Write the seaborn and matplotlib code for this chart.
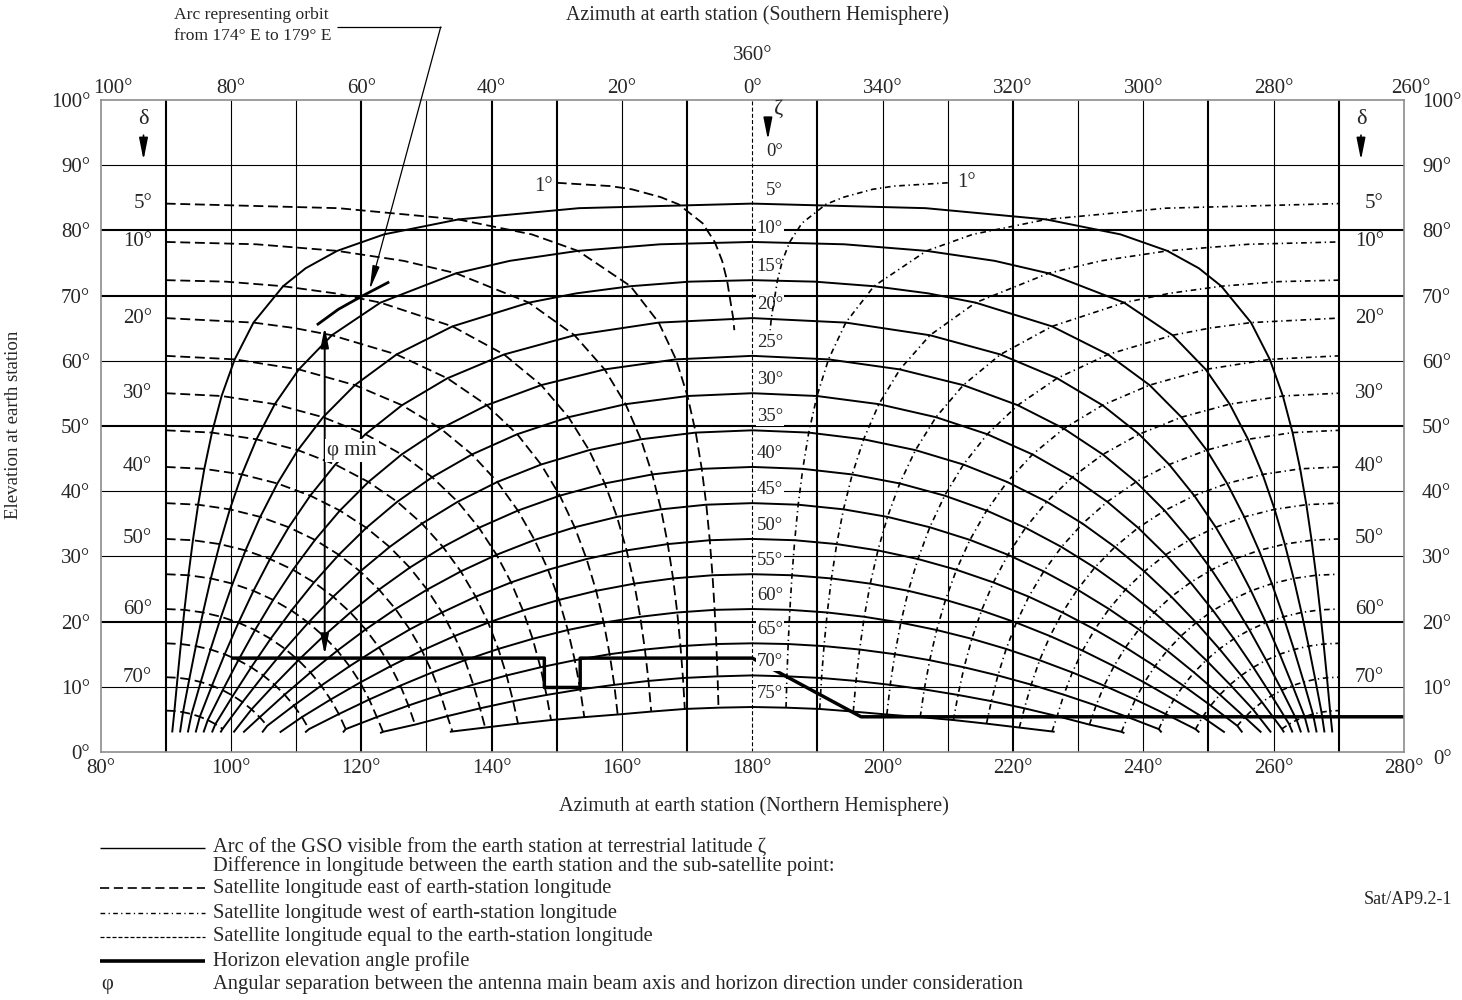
import numpy as np
import pandas as pd
import matplotlib
matplotlib.use("Agg")
import matplotlib.pyplot as plt
from matplotlib.lines import Line2D
from matplotlib.ticker import FuncFormatter
import seaborn as sns

sns.set_style("white")
plt.rcParams["font.family"] = ["Liberation Serif", "DejaVu Serif"]
plt.rcParams["font.size"] = 15
plt.rcParams["lines.solid_capstyle"] = "butt"
plt.rcParams["lines.dash_capstyle"] = "butt"

nan = np.nan

# ---------------------------------------------------------------- data
# Terrestrial latitude of the earth station (one GSO arc per value)
lat_levels = [5, 10, 15, 20, 25, 30, 35, 40, 45, 50, 55, 60, 65, 70, 75]
# Difference in longitude earth station / sub-satellite point
dlon_levels = [0, 5, 10, 15, 20, 25, 30, 35, 40, 45, 50, 55, 60, 65, 70, 75]

# Azimuth distance from the meridian (deg) of every arc / longitude node
offset_rows = [
    [0, 45.11, 63.69, 71.98, 76.53, 79.41, 81.42, 82.90, 84.07, 85.02, 85.82, 86.51, 87.12, 87.67, 88.18, 88.66],
    [0, 26.74, 45.44, 57.05, 64.50, 69.57, 73.26, 76.07, 78.31, 80.15, 81.71, 83.07, 84.27, 85.37, 86.38, 87.34],
    [0, 18.67, 34.27, 46.00, 54.58, 60.97, 65.85, 69.72, 72.86, 75.49, 77.75, 79.73, 81.50, 83.12, 84.62, 86.03],
    [0, 14.35, 27.27, 38.08, 46.78, 53.74, 59.36, 63.97, 67.82, 71.12, 73.99, 76.53, 78.83, 80.94, 82.90, 84.76],
    [0, 11.70, 22.65, 32.38, 40.74, 47.81, 53.79, 58.89, 63.27, 67.09, 70.47, 73.52, 76.29, 78.85, 81.25, 83.54],
    [0, 9.93, 19.43, 28.19, 36.06, 43.00, 49.11, 54.47, 59.21, 63.43, 67.24, 70.70, 73.90, 76.88, 79.69, 82.37],
    [0, 8.67, 17.09, 25.04, 32.40, 39.11, 45.19, 50.68, 55.64, 60.16, 64.30, 68.12, 71.68, 75.03, 78.21, 81.26],
    [0, 7.75, 15.34, 22.63, 29.52, 35.96, 41.93, 47.45, 52.55, 57.27, 61.66, 65.77, 69.64, 73.31, 76.83, nan],
    [0, 7.05, 14.00, 20.75, 27.24, 33.40, 39.23, 44.72, 49.88, 54.74, 59.32, 63.66, 67.79, 71.75, 75.57, nan],
    [0, 6.52, 12.96, 19.28, 25.42, 31.33, 37.00, 42.43, 47.60, 52.55, 57.27, 61.79, 66.14, 70.34, 74.42, nan],
    [0, 6.10, 12.15, 18.11, 23.95, 29.65, 35.18, 40.52, 45.69, 50.68, 55.50, 60.16, 64.69, 69.09, nan, nan],
    [0, 5.77, 11.51, 17.19, 22.79, 28.30, 33.69, 38.96, 44.09, 49.11, 53.99, 58.77, 63.43, 68.01, nan, nan],
    [0, 5.51, 11.01, 16.47, 21.88, 27.23, 32.50, 37.69, 42.80, 47.81, 52.75, 57.60, 62.38, nan, nan, nan],
    [0, 5.32, 10.63, 15.92, 21.17, 26.39, 31.57, 36.69, 41.76, 46.78, 51.74, 56.65, nan, nan, nan, nan],
    [0, 5.18, 10.35, 15.50, 20.65, 25.77, 30.87, 35.94, 40.98, 46.00, nan, nan, nan, nan, nan, nan],
]
# Elevation (deg) at the same nodes
elev_rows = [
    [84.11, 81.68, 76.86, 71.44, 65.86, 60.22, 54.60, 48.99, 43.43, 37.93, 32.48, 27.11, 21.80, 16.56, 11.39, 6.29],
    [78.23, 76.86, 73.42, 68.92, 63.92, 58.68, 53.35, 47.96, 42.57, 37.22, 31.89, 26.62, 21.40, 16.24, 11.15, 6.11],
    [72.37, 71.44, 68.92, 65.28, 60.97, 56.27, 51.35, 46.30, 41.19, 36.06, 30.92, 25.82, 20.74, 15.72, 10.74, 5.82],
    [66.55, 65.86, 63.92, 60.97, 57.32, 53.19, 48.74, 44.09, 39.32, 34.47, 29.60, 24.72, 19.84, 15.00, 10.18, 5.41],
    [60.76, 60.22, 58.68, 56.27, 53.19, 49.60, 45.64, 41.42, 37.03, 32.53, 27.95, 23.33, 18.71, 14.08, 9.48, 4.90],
    [55.03, 54.60, 53.35, 51.35, 48.74, 45.64, 42.15, 38.38, 34.39, 30.25, 26.01, 21.70, 17.36, 12.99, 8.63, 4.28],
    [49.34, 48.99, 47.96, 46.30, 44.09, 41.42, 38.38, 35.03, 31.45, 27.70, 23.82, 19.84, 15.81, 11.74, 7.65, 3.55],
    [43.72, 43.43, 42.57, 41.19, 39.32, 37.03, 34.39, 31.45, 28.28, 24.91, 21.40, 17.78, 14.08, 10.33, 6.54, nan],
    [38.17, 37.93, 37.22, 36.06, 34.47, 32.53, 30.25, 27.70, 24.91, 21.93, 18.80, 15.55, 12.20, 8.79, 5.33, nan],
    [32.68, 32.48, 31.89, 30.92, 29.60, 27.95, 26.01, 23.82, 21.40, 18.80, 16.04, 13.16, 10.18, 7.13, 4.02, nan],
    [27.27, 27.11, 26.62, 25.82, 24.72, 23.33, 21.70, 19.84, 17.78, 15.55, 13.16, 10.66, 8.05, 5.36, nan, nan],
    [21.93, 21.80, 21.40, 20.74, 19.84, 18.71, 17.36, 15.81, 14.08, 12.20, 10.18, 8.05, 5.82, 3.51, nan, nan],
    [16.67, 16.56, 16.24, 15.72, 15.00, 14.08, 12.99, 11.74, 10.33, 8.79, 7.13, 5.36, 3.51, nan, nan, nan],
    [11.75, 11.60, 11.35, 10.90, 10.30, 9.60, 8.75, 7.80, 6.70, 5.50, 4.20, 3.10, nan, nan, nan, nan],
    [6.90, 6.80, 6.60, 6.20, 5.75, 5.35, 4.90, 4.35, 3.75, 3.15, nan, nan, nan, nan, nan, nan],
]
# Elevation where each longitude curve leaves the 90 deg / 270 deg line
equator_elev = [nan, 84.11, 78.23, 72.37, 66.55, 60.76, 55.03, 49.34, 43.72,
                38.17, 32.68, 27.27, 21.93, 16.67, 11.47, 6.35]
# Additional nodes: flat tops of the high arcs, and the curves near the equator
extra_lat = [5, 5, 5, 10, 10, 15, 15, 2.5, 2.5, 2.5, 7.5, 7.5, 7.5, 7.5]
extra_dlon = [2.5, 7.5, 12.5, 2.5, 7.5, 2.5, 7.5, 5, 10, 15, 5, 10, 15, 20]
extra_offset = [26.60, 56.50, 68.53, 14.11, 37.20, 9.58, 26.96,
                63.50, 76.10, 80.75, 33.83, 53.50, 64.03, 70.27]
extra_elev = [83.41, 79.39, 74.19, 77.87, 75.33, 72.14, 70.35,
              83.41, 77.87, 72.14, 79.39, 75.33, 70.35, 65.03]
# Lower end of every arc
arc_end_offset = [89.0, 87.8, 86.6, 85.4, 84.2, 82.9, 81.6, 79.6, 78.1, 75.2, 72.5, 68.6, 62.8, 57.1, 46.4]
arc_end_elev = [3.0, 3.0, 3.0, 3.0, 3.0, 3.0, 3.0, 3.0, 3.0, 3.0, 3.0, 3.0, 3.0, 2.9, 3.1]

# The 1 deg longitude-difference curve (drawn near the zenith only)
dlon1_offset = [30.0, 21.8, 18.45, 14.05, 11.3, 7.62, 5.74, 4.61, 3.86, 2.92, 2.75]
dlon1_elev = [87.3, 86.8, 86.3, 85.1, 84.0, 81.1, 78.2, 75.3, 72.3, 66.5, 64.7]

# Horizon elevation angle profile
horizon_az = [100.0, 148.1, 148.1, 153.6, 153.6, 180.0, 196.7, 280.0]
horizon_elev = [14.4, 14.4, 9.9, 9.9, 14.4, 14.4, 5.4, 5.4]

# Arc of the orbit from 174 E to 179 E
orbit_az = [113.2, 116.5, 119.9, 124.3]
orbit_elev = [65.5, 67.9, 69.8, 72.1]

# Minimum angular separation (phi min)
phi_az = 114.4
phi_elev = [14.9, 65.2]

meridian_az = 180.0
lon_label_values = [5, 10, 20, 30, 40, 50, 60, 70]
bottom_ticks = [80, 100, 120, 140, 160, 180, 200, 220, 240, 260, 280]
top_tick_labels = ["100°", "80°", "60°", "40°", "20°", "0°", "340°", "320°", "300°", "280°", "260°"]
elev_ticks = [0, 10, 20, 30, 40, 50, 60, 70, 80, 90, 100]

legend_text = [
    "Arc of the GSO visible from the earth station at terrestrial latitude ζ",
    "Difference in longitude between the earth station and the sub-satellite point:",
    "Satellite longitude east of earth-station longitude",
    "Satellite longitude west of earth-station longitude",
    "Satellite longitude equal to the earth-station longitude",
    "Horizon elevation angle profile",
    "Angular separation between the antenna main beam axis and horizon direction under consideration",
]

# ---------------------------------------------------------------- nodes
records = []
for lat, offs, els, e_off, e_el in zip(lat_levels, offset_rows, elev_rows,
                                       arc_end_offset, arc_end_elev):
    for d, o, e in zip(dlon_levels, offs, els):
        if not (np.isnan(o) or np.isnan(e)):
            records.append((float(lat), float(d), o, e))
    records.append((float(lat), -1.0, e_off, e_el))
for d, e in zip(dlon_levels, equator_elev):
    if not np.isnan(e):
        records.append((0.0, float(d), 90.0, e))
for rec in zip(extra_lat, extra_dlon, extra_offset, extra_elev):
    records.append(tuple(float(v) for v in rec))
nodes = pd.DataFrame(records, columns=["lat", "dlon", "offset", "elev"])

arc_nodes = nodes[nodes["lat"].isin(lat_levels)]
arcs = pd.concat([
    arc_nodes.assign(az=meridian_az - arc_nodes["offset"]),
    arc_nodes[arc_nodes["offset"] > 0].assign(az=meridian_az + arc_nodes["offset"]),
]).sort_values(["lat", "az"])

curve_nodes = nodes[nodes["dlon"].isin(dlon_levels[1:])]
east = curve_nodes.assign(az=meridian_az - curve_nodes["offset"]).sort_values(["dlon", "az"])
west = curve_nodes.assign(az=meridian_az + curve_nodes["offset"]).sort_values(["dlon", "az"])

one = pd.DataFrame({"offset": dlon1_offset, "elev": dlon1_elev})
one_east = one.assign(az=meridian_az - one["offset"])
one_west = one.assign(az=meridian_az + one["offset"])

# ---------------------------------------------------------------- figure
W, H = 1462, 1000
fig = plt.figure(figsize=(W / 100, H / 100), dpi=100)
fig.patch.set_facecolor("white")
X0, X1, Y0, Y1 = 100.5, 1404.0, 100.0, 752.0
ax = fig.add_axes([X0 / W, 1 - Y1 / H, (X1 - X0) / W, (Y1 - Y0) / H])
PT = 72 / 100  # points per pixel


def fx(px):
    return px / W


def fy(py):
    return 1 - py / H


# grid
bold_x = {90, 120, 140, 150, 170, 190, 220, 250, 270}
bold_y = {20, 50, 70, 80}
for v in range(90, 280, 10):
    if v == 180:
        continue
    ax.axvline(v, color="black", lw=1.5 if v in bold_x else 0.8, zorder=0.5)
for v in range(10, 100, 10):
    ax.axhline(v, color="black", lw=1.5 if v in bold_y else 0.8, zorder=0.5)

# meridian: satellite longitude equal to earth-station longitude
ax.axvline(meridian_az, color="black", lw=0.8, linestyle=(0, (3.6, 2.0)), zorder=1)

dash_east = (0, (5.5, 2.6))
dash_west = (0, (3.4, 2.2, 0.8, 2.2))

sns.lineplot(data=arcs, x="az", y="elev", units="lat", estimator=None, sort=False,
             color="black", linewidth=1.4, zorder=3, ax=ax)
sns.lineplot(data=east, x="az", y="elev", units="dlon", estimator=None, sort=False,
             color="black", linewidth=1.3, linestyle=dash_east, zorder=3, ax=ax)
sns.lineplot(data=west, x="az", y="elev", units="dlon", estimator=None, sort=False,
             color="black", linewidth=1.2, linestyle=dash_west, zorder=3, ax=ax)
sns.lineplot(data=one_east, x="az", y="elev", estimator=None, sort=False,
             color="black", linewidth=1.3, linestyle=dash_east, zorder=3, ax=ax)
sns.lineplot(data=one_west, x="az", y="elev", estimator=None, sort=False,
             color="black", linewidth=1.2, linestyle=dash_west, zorder=3, ax=ax)
sns.lineplot(x=horizon_az, y=horizon_elev, estimator=None, sort=False,
             color="black", linewidth=2.5, zorder=2, ax=ax)
sns.lineplot(x=orbit_az, y=orbit_elev, estimator=None, sort=False,
             color="black", linewidth=2.0, zorder=3, ax=ax)

ax.set_xlim(80, 280)
ax.set_ylim(0, 100)
ax.set_xlabel("")
ax.set_ylabel("")

# frame and bottom / left tick labels
for sp in ax.spines.values():
    sp.set_color("#8c8c8c")
    sp.set_linewidth(1.2)
ax.set_xticks(bottom_ticks)
ax.set_yticks(elev_ticks)
ax.xaxis.set_major_formatter(FuncFormatter(lambda v, p: f"{v:.0f}°"))
ax.yaxis.set_major_formatter(FuncFormatter(lambda v, p: f"{v:.0f}°"))
ax.tick_params(axis="x", length=0, pad=5, labelsize=15)
ax.tick_params(axis="y", length=0, pad=7.5, labelsize=15)

# top scale (southern hemisphere azimuth)
for i, (x, lab) in enumerate(zip(bottom_ticks, top_tick_labels)):
    dx = 12 if i == 0 else (7 if i == len(bottom_ticks) - 1 else 0)
    ax.annotate(lab, xy=(x, 100), xytext=(dx * PT, 14 * PT), textcoords="offset points",
                ha="center", va="center_baseline", fontsize=15, annotation_clip=False)
ax.annotate("360°", xy=(180, 100), xytext=(0, 47 * PT), textcoords="offset points",
            ha="center", va="center_baseline", fontsize=15, annotation_clip=False)

# right elevation scale
for v in elev_ticks:
    dx, dy = (29, -5) if v == 0 else (18, 0)
    ax.annotate(f"{v}°", xy=(280, v), xytext=(dx * PT, dy * PT), textcoords="offset points",
                ha="left", va="center_baseline", fontsize=15, annotation_clip=False)

# latitude labels along the meridian
white = dict(boxstyle="square,pad=0.05", fc="white", ec="none")
for lat, el in zip([0] + lat_levels, [90.0] + [r[0] for r in elev_rows]):
    ax.annotate(f"{lat}°", xy=(184.7, el), xytext=(0, 9.7), textcoords="offset points",
                ha="right", va="center", fontsize=13.5, bbox=white, zorder=2.5)

# longitude-difference labels at both sides
for d in lon_label_values:
    el = equator_elev[dlon_levels.index(d)]
    ax.text(87.9, el, f"{d}°", ha="right", va="center", fontsize=15)
    ax.text(276.9, el, f"{d}°", ha="right", va="center", fontsize=15)
ax.text(148.0, 86.8, "1°", ha="center", va="center", fontsize=15)
ax.text(212.9, 87.3, "1°", ha="center", va="center", fontsize=15)

# delta / zeta markers
arrow_kw = dict(arrowstyle="-|>,head_length=1.1,head_width=0.22", color="black",
                lw=1.2, shrinkA=0, shrinkB=0, mutation_scale=12)
for xa in (86.6, 273.4):
    ax.text(xa, 97.0, "δ", ha="center", va="center", fontsize=16)
    ax.annotate("", xy=(xa, 90.8), xytext=(xa, 94.6), arrowprops=arrow_kw)
ax.text(184.0, 98.6, "ζ", ha="center", va="center", fontsize=16)
ax.annotate("", xy=(182.4, 93.9), xytext=(182.4, 96.7), arrowprops=arrow_kw)

# phi min
ax.annotate("", xy=(phi_az, phi_elev[1]), xytext=(phi_az, phi_elev[0]),
            arrowprops=dict(arrowstyle="<|-|>,head_length=1.0,head_width=0.2",
                            color="black", lw=1.4, shrinkA=0, shrinkB=0,
                            mutation_scale=12), zorder=4)
ax.text(118.6, 46.3, "φ min", ha="center", va="center", fontsize=15,
        bbox=dict(boxstyle="square,pad=0.1", fc="white", ec="none"), zorder=5)

# orbit annotation with leader
ax.plot([116.3, 132.2], [111.2, 111.2], color="black", lw=0.9, clip_on=False)
ax.annotate("", xy=(121.3, 70.9), xytext=(132.2, 111.2), annotation_clip=False,
            arrowprops=dict(arrowstyle="-|>,head_length=1.2,head_width=0.18",
                            color="black", lw=0.9, shrinkA=0, shrinkB=0,
                            mutation_scale=12))
fig.text(fx(174), fy(15), "Arc representing orbit", ha="left", va="center", fontsize=12.6)
fig.text(fx(174), fy(36), "from 174° E to 179° E", ha="left", va="center", fontsize=12.6)

# titles
fig.text(fx(758), fy(15), "Azimuth at earth station (Southern Hemisphere)",
         ha="center", va="center", fontsize=14.3)
fig.text(fx(754), fy(806), "Azimuth at earth station (Northern Hemisphere)",
         ha="center", va="center", fontsize=14.6)
fig.text(fx(14), fy(425), "Elevation at earth station", rotation=90,
         ha="center", va="center", fontsize=13.6)
fig.text(fx(1408), fy(900), "Sat/AP9.2-1", ha="center", va="center", fontsize=13)

# legend
leg_y = [848, 866, 888, 913, 937, 961, 984]
leg_styles = [
    dict(lw=1.0, ls="-"),
    None,
    dict(lw=1.2, ls=(0, (5.5, 2.8))),
    dict(lw=1.0, ls=(0, (3.4, 2.4, 0.9, 2.4))),
    dict(lw=0.9, ls=(0, (3.2, 1.6))),
    dict(lw=2.6, ls="-"),
    None,
]
for y, txt, st in zip(leg_y, legend_text, leg_styles):
    if st is not None:
        fig.add_artist(Line2D([fx(100), fx(205)], [fy(y), fy(y)], color="black",
                              linewidth=st["lw"], linestyle=st["ls"],
                              transform=fig.transFigure))
    fig.text(fx(213), fy(y), txt, ha="left", va="center", fontsize=14.75)
fig.text(fx(101), fy(984), "φ", ha="left", va="center", fontsize=14.75)

fig.savefig("out.png", dpi=100, facecolor="white")
